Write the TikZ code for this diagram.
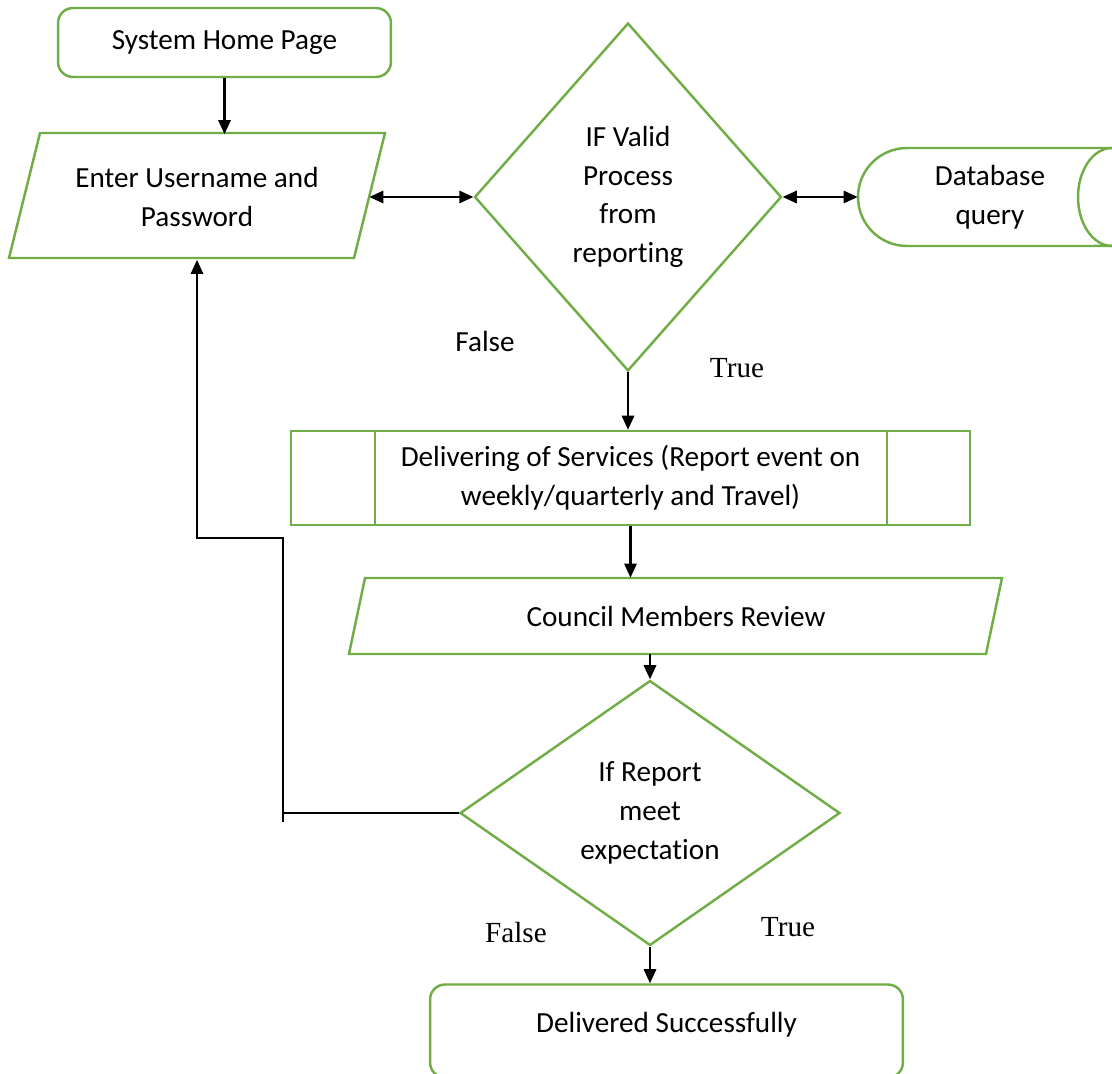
\documentclass[tikz,border=0pt]{standalone}
\usepackage{fontspec}
\setmainfont{Carlito}[Ligatures=NoCommon]
\newfontfamily\timesfont{Liberation Serif}
\usetikzlibrary{shapes.geometric,arrows.meta}
\definecolor{boxgreen}{HTML}{70AD47}

\begin{document}
\begin{tikzpicture}[x=0.02cm,y=0.02cm,>={Triangle[length=8pt,width=7pt]}]
\tikzstyle{every node}+=[inner sep=0pt, align=center, font=\fontsize{16.6}{22}\selectfont]
\tikzstyle{box}=[draw=boxgreen, line width=1.4pt]
\tikzstyle{flow}=[black, line width=1.3pt]
\tikzstyle{tflabel}=[font=\timesfont\fontsize{16.6}{22}\selectfont]
\useasboundingbox (0,0) rectangle (1112,-1074);
\node [box, rounded corners=0.3cm, minimum width=6.66cm, minimum height=1.38cm] (home) at (224.5,-42.5) {System Home Page};
\node [minimum width=6.88cm, minimum height=2.5cm] (enter) at (197,-197) {Enter Username and\\Password};
\draw [box] (40,-133) -- (385,-133) -- (354,-258) -- (9,-258) -- cycle;
\node [box, diamond, aspect=0.88, minimum width=6.14cm, minimum height=6.96cm] (valid) at (628,-197) {IF Valid\\Process\\from\\reporting};
\node [minimum width=5.28cm, minimum height=1.96cm] (db) at (990,-197) {Database\\query};
\draw [box] (907,-148) -- (1112,-148) arc [start angle=90, end angle=-90, x radius=0.68cm, y radius=0.98cm] -- (907,-246) arc [start angle=270, end angle=90, radius=0.98cm] -- cycle;
\draw [box] (1112,-148) arc [start angle=90, end angle=270, x radius=0.68cm, y radius=0.98cm];
\node (false1) at (485,-341) {False};
\node [tflabel] (true1) at (737,-368) {True};
\node [box, minimum width=13.58cm, minimum height=1.88cm] (proc) at (630.5,-478) {Delivering of Services (Report event on\\weekly/quarterly and Travel)};
\draw [box] ([xshift=1.7cm]proc.north west) -- ([xshift=1.7cm]proc.south west);
\draw [box] ([xshift=-1.68cm]proc.north east) -- ([xshift=-1.68cm]proc.south east);
\node [minimum width=12.74cm, minimum height=1.52cm] (council) at (676,-616) {Council Members Review};
\draw [box] (365,-578) -- (1002,-578) -- (986,-654) -- (349,-654) -- cycle;
\node [box, diamond, aspect=1.43, minimum width=7.6cm, minimum height=5.3cm] (check) at (650,-813) {If Report\\meet\\expectation};
\node [tflabel] (false2) at (516,-933) {False};
\node [tflabel] (true2) at (788,-927) {True};
\node [box, rounded corners=0.3cm, minimum width=9.46cm, minimum height=1.86cm] (done) at (666.5,-1031) {\raisebox{0.36cm}{Delivered Successfully}};
% connectors
\draw [flow, ->] (home.south) -- (home.south |- enter.north);
\draw [flow, <->] (enter.east) -- (valid.west);
\draw [flow, <->] (valid.east) -- (db.west);
\draw [flow, ->] (valid.south) -- (valid.south |- proc.north);
\draw [flow, ->] (proc.south) -- (proc.south |- council.north);
\draw [flow, ->] (check.north |- council.south) -- (check.north);
\draw [flow, ->] (check.south) -- (check.south |- done.north);
% back to login
\coordinate (tick) at (283,-822);
\coordinate (bend) at (283,-538);
\draw [flow, line width=1.1pt] (check.west) -- (tick |- check.west);
\draw [flow, line width=1.1pt, ->] (tick) -- (bend) -| (enter.south);
\end{tikzpicture}
\end{document}
